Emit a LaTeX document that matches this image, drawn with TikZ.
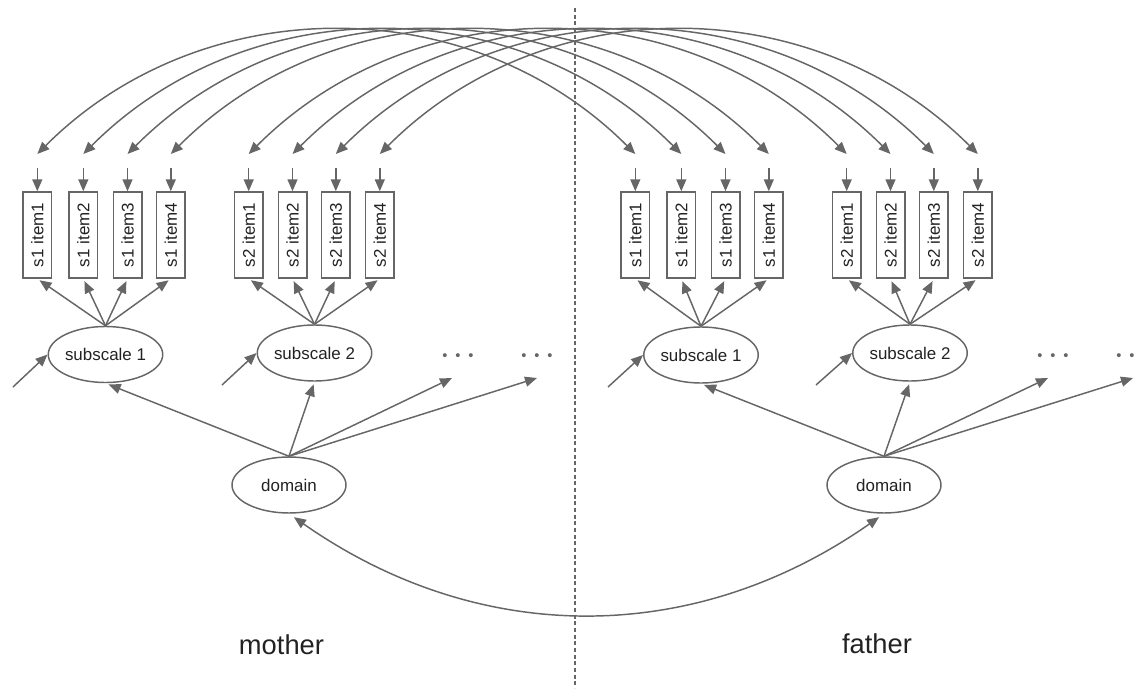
\documentclass[tikz,border=0pt]{standalone}
\usepackage{fontspec}
\setmainfont{Liberation Sans}
\usepackage{graphicx}
\usetikzlibrary{arrows.meta,shapes.geometric,calc}
\definecolor{ln}{HTML}{666666}
\definecolor{tx}{HTML}{222222}
\begin{document}
\begin{tikzpicture}[x=0.75pt,y=-0.75pt,
  tipx/.tip={Triangle[length=9pt,width=7.5pt]},
  conn/.style={draw=ln, line width=1.1pt, -tipx},
  both/.style={draw=ln, line width=1.1pt, tipx-tipx},
  itembox/.style={draw=ln, line width=1.1pt, minimum width=21.4pt, minimum height=64.5pt,
    inner sep=0pt, text=tx, font=\fontsize{12.7}{14}\selectfont},
  lat/.style={ellipse, draw=ln, line width=1.1pt, minimum width=85.5pt, minimum height=42pt,
    inner sep=0pt, text=tx, font=\fontsize{12.7}{15}\selectfont},
  dots/.style={text=ln, inner sep=0pt, font=\fontsize{11}{12}\selectfont},
  side/.style={text=tx, inner sep=0pt, font=\fontsize{20.5}{24}\selectfont}]
\useasboundingbox (0,0) rectangle (1142,692);

% divider
\coordinate (divtop) at (575,8);
\coordinate (divbot) at (575,688);
\draw[ln, line width=1.6pt, dash pattern=on 3pt off 2pt] (divtop) -- (divbot);

% item boxes
\foreach \i/\x in {1/37.3,2/83.3,3/127.5,4/170.8} {
  \node[itembox] (mA\i) at (\x,235) {\rotatebox{90}{s1 item\i}};
  \node[itembox] (fA\i) at (\x+598,235) {\rotatebox{90}{s1 item\i}};
  \coordinate (mA\i-t) at (\x,154);
  \coordinate (fA\i-t) at (\x+598,154);
  \coordinate (mA\i-e) at (\x,168);
  \coordinate (fA\i-e) at (\x+598,168);
}
\foreach \i/\x in {1/248.7,2/292.5,3/335.8,4/379.8} {
  \node[itembox] (mB\i) at (\x,235) {\rotatebox{90}{s2 item\i}};
  \node[itembox] (fB\i) at (\x+598,235) {\rotatebox{90}{s2 item\i}};
  \coordinate (mB\i-t) at (\x,154);
  \coordinate (fB\i-t) at (\x+598,154);
  \coordinate (mB\i-e) at (\x,168);
  \coordinate (fB\i-e) at (\x+598,168);
}

% latent variables
\node[lat] (mS1) at (105.5,354.5) {subscale 1};
\node[lat] (mS2) at (314.5,353) {subscale 2};
\node[lat] (mD) at (289,485) {domain};
\node[lat] (fS1) at (701,355) {subscale 1};
\node[lat] (fS2) at (910,353) {subscale 2};
\node[lat] (fD) at (884,485) {domain};

% dots
\node[dots] (mDots1) at (458,357) {•\hspace{5.9pt}•\hspace{5.9pt}•};
\node[dots] (mDots2) at (537,357) {•\hspace{5.9pt}•\hspace{5.9pt}•};
\node[dots] (fDots1) at (1053,357) {•\hspace{5.9pt}•\hspace{5.9pt}•};
\node[dots] (fDots2) at (1132,357) {•\hspace{5.9pt}•\hspace{5.9pt}•};

% side labels
\node[side] (mother) at (281.5,645) {mother};
\node[side] (father) at (877,644) {father};

% free ends
\coordinate (mS1-e) at (13,387);
\coordinate (mS2-e) at (222,385);
\coordinate (fS1-e) at (608,387);
\coordinate (fS2-e) at (816,385);
\coordinate (mX1) at (452,378);
\coordinate (mX2) at (537,378);
\coordinate (fX1) at (1048,378);
\coordinate (fX2) at (1133,378);

% item arrows
\foreach \g in {A,B} {
  \foreach \i in {1,2,3,4} {
    \draw[conn] (m\g\i-e) -- (m\g\i.north);
    \draw[conn] (f\g\i-e) -- (f\g\i.north);
    \draw[both] (m\g\i-t) to[out=45,in=135] (f\g\i-t);
  }
}
\foreach \i in {1,2,3,4} {
  \draw[conn, shorten >=2pt] (mS1.north) -- (mA\i.south);
  \draw[conn, shorten >=2pt] (mS2.north) -- (mB\i.south);
  \draw[conn, shorten >=2pt] (fS1.north) -- (fA\i.south);
  \draw[conn, shorten >=2pt] (fS2.north) -- (fB\i.south);
}

% error arrows into subscales
\draw[conn] (mS1-e) -- (mS1.west);
\draw[conn] (mS2-e) -- (mS2.west);
\draw[conn] (fS1-e) -- (fS1.west);
\draw[conn] (fS2-e) -- (fS2.west);

% domain loadings
\draw[conn, shorten >=2.5pt] (mD.north) -- (mS1.south);
\draw[conn, shorten >=2pt] (mD.north) -- (mS2.south);
\draw[conn] (mD.north) -- (mX1);
\draw[conn] (mD.north) -- (mX2);
\draw[conn, shorten >=2.5pt] (fD.north) -- (fS1.south);
\draw[conn, shorten >=2pt] (fD.north) -- (fS2.south);
\draw[conn] (fD.north) -- (fX1);
\draw[conn] (fD.north) -- (fX2);

% domain covariance
\draw[both, shorten <=4.5pt, shorten >=4.5pt] (mD.south) to[out=-35,in=215] (fD.south);
\end{tikzpicture}
\end{document}
